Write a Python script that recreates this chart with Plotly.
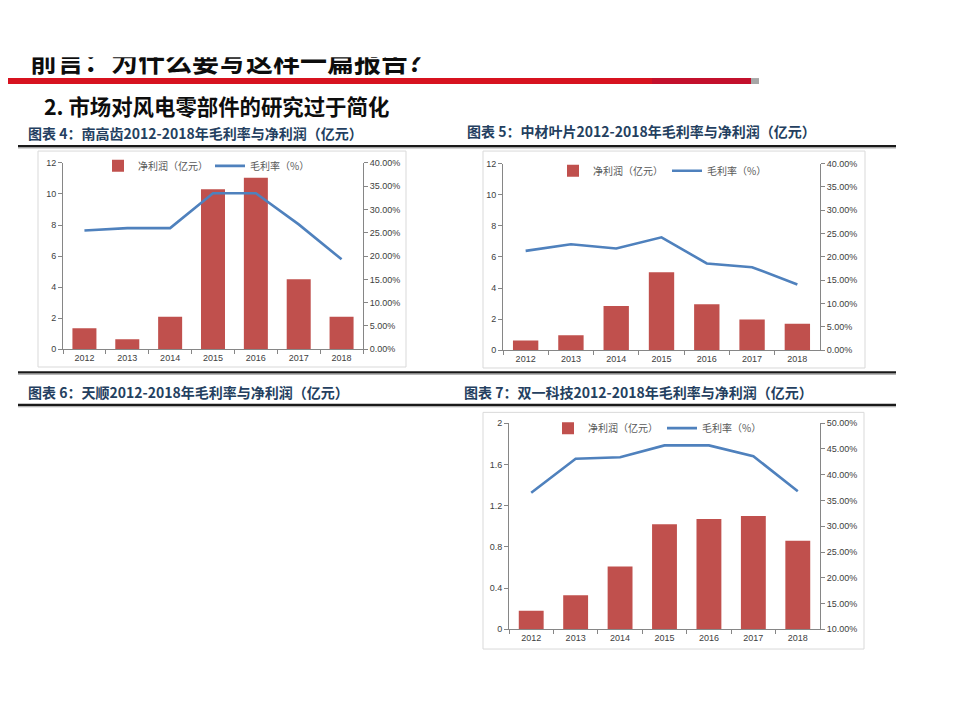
import plotly.graph_objects as go

W, H = 959, 719
OFF = 8  # page body margin offset


def px(x):
    return (x - OFF) / W


def py(y):
    return 1 - (y - OFF) / H


years = ['2012', '2013', '2014', '2015', '2016', '2017', '2018']

# 南高齿
ngc_profit = [1.35, 0.65, 2.1, 10.3, 11.05, 4.5, 2.1]
ngc_margin = [0.255, 0.26, 0.26, 0.335, 0.335, 0.268, 0.193]
# 中材叶片
zc_profit = [0.62, 0.97, 2.85, 5.02, 2.95, 1.98, 1.7]
zc_margin = [0.213, 0.227, 0.218, 0.242, 0.186, 0.178, 0.141]
# 双一科技
sy_profit = [0.18, 0.33, 0.61, 1.02, 1.07, 1.10, 0.86]
sy_margin = [0.365, 0.431, 0.434, 0.457, 0.457, 0.436, 0.368]

bar_name = '净利润（亿元）'
line_name = '毛利率（%）'

slide_title = '前言：为什么要写这样一篇报告？'
section_title = '2. 市场对风电零部件的研究过于简化'
t4 = '图表 4：南高齿2012-2018年毛利率与净利润（亿元）'
t5 = '图表 5：中材叶片2012-2018年毛利率与净利润（亿元）'
t6 = '图表 6：天顺2012-2018年毛利率与净利润（亿元）'
t7 = '图表 7：双一科技2012-2018年毛利率与净利润（亿元）'

BAR = '#C0504D'
LINE = '#4F81BD'
AX = '#868686'
TXT = '#404040'
TICKFONT = dict(family='Liberation Sans, Arial', size=9, color=TXT)
CJK = 'Noto Sans CJK SC'

fig = go.Figure()

charts = [
    (ngc_profit, ngc_margin, 'x', 'y', 'y2', 'legend', 'legend2'),
    (zc_profit, zc_margin, 'x2', 'y3', 'y4', 'legend3', 'legend4'),
    (sy_profit, sy_margin, 'x3', 'y5', 'y6', 'legend5', 'legend6'),
]
for prof, marg, xa, yl, yr, lg1, lg2 in charts:
    fig.add_trace(go.Bar(x=years, y=prof, name=bar_name, marker=dict(color=BAR, line=dict(width=0)),
                         xaxis=xa, yaxis=yl, legend=lg1, hoverinfo='skip'))
    fig.add_trace(go.Scatter(x=years, y=marg, name=line_name, mode='lines',
                             line=dict(color=LINE, width=2.6), xaxis=xa, yaxis=yr, legend=lg2,
                             hoverinfo='skip'))

# slide title as text on a hidden full-page axis (so its top can be masked like the original)
fig.add_trace(go.Scatter(x=[px(30)], y=[py(60.5)], mode='text', text=['<b>' + slide_title + '</b>'],
                         textposition='middle right', cliponaxis=False, showlegend=False,
                         textfont=dict(family=CJK, size=27, color='#0D0D0D'),
                         xaxis='x4', yaxis='y7', hoverinfo='skip'))

geo = [
    (63, 363, 160, 349),
    (503, 820, 160.7, 350),
    (509, 820, 424, 633),
]
left_ranges = [([0, 12], 2, None), ([0, 12], 2, None), ([0, 2], 0.4, ['0', '0.4', '0.8', '1.2', '1.6', '2'])]
right_ranges = [[0, 0.4], [0, 0.4], [0.1, 0.5]]

layout = dict(
    width=W, height=H, margin=dict(l=0, r=0, t=0, b=0),
    paper_bgcolor='white', plot_bgcolor='rgba(0,0,0,0)',
    showlegend=True, bargap=0.44,
    xaxis4=dict(domain=[0, 1], range=[0, 1], visible=False, anchor='y7', fixedrange=True),
    yaxis7=dict(domain=[0, 1], range=[0, 1], visible=False, anchor='x4', fixedrange=True),
)
xnames = ['xaxis', 'xaxis2', 'xaxis3']
ylnames = [('yaxis', 'y'), ('yaxis3', 'y3'), ('yaxis5', 'y5')]
yrnames = [('yaxis2', 'y2'), ('yaxis4', 'y4'), ('yaxis6', 'y6')]
xids = ['x', 'x2', 'x3']
for i, (x0, x1, yt, yb) in enumerate(geo):
    layout[xnames[i]] = dict(
        domain=[px(x0), px(x1)], anchor=ylnames[i][1], type='category',
        tickson='boundaries', ticks='outside', ticklen=4, tickcolor=AX,
        showline=True, linecolor=AX, linewidth=1, showgrid=False, zeroline=False,
        tickfont=TICKFONT, fixedrange=True,
    )
    rng, dt, labels = left_ranges[i]
    yl = dict(
        domain=[py(yb), py(yt)], anchor=xids[i], range=rng, dtick=dt,
        ticks='outside', ticklen=4, tickcolor=AX, showline=True, linecolor=AX, linewidth=1,
        showgrid=False, zeroline=False, tickfont=TICKFONT, fixedrange=True,
    )
    if labels:
        yl['tickmode'] = 'array'
        yl['tickvals'] = [0, 0.4, 0.8, 1.2, 1.6, 2.0]
        yl['ticktext'] = labels
    layout[ylnames[i][0]] = yl
    layout[yrnames[i][0]] = dict(
        overlaying=ylnames[i][1], anchor=xids[i], side='right', range=right_ranges[i],
        dtick=0.05, tickformat='.2%', ticks='outside', ticklen=4, tickcolor=AX,
        showline=True, linecolor=AX, linewidth=1, showgrid=False, zeroline=False,
        tickfont=TICKFONT, fixedrange=True,
    )

leg_pos = [(98, 163), (210, 163), (553, 168), (667, 168), (548, 429), (662, 429)]
lnames = ['legend', 'legend2', 'legend3', 'legend4', 'legend5', 'legend6']
for i, (lx, ly) in enumerate(leg_pos):
    layout[lnames[i]] = dict(
        orientation='h', x=px(lx), y=py(ly), xanchor='left', yanchor='middle',
        font=dict(family=CJK, size=10, color='#595959'), bgcolor='rgba(0,0,0,0)',
        itemwidth=30, traceorder='normal', tracegroupgap=0,
    )

fig.update_layout(**layout)

shapes = []
# mask over the top of the slide title (cropped in the original)
shapes.append(dict(type='rect', xref='paper', yref='paper', x0=px(0), x1=px(520), y0=py(53), y1=py(0),
                   fillcolor='white', line=dict(width=0), layer='above'))
# red header bar
shapes.append(dict(type='rect', xref='paper', yref='paper', x0=px(0), x1=px(4), y0=py(80), y1=py(74),
                   fillcolor='#A6A6A6', line=dict(width=0), layer='below'))
shapes.append(dict(type='rect', xref='paper', yref='paper', x0=px(4), x1=px(652), y0=py(80), y1=py(74),
                   fillcolor='#D7121F', line=dict(width=0), layer='below'))
shapes.append(dict(type='rect', xref='paper', yref='paper', x0=px(652), x1=px(751), y0=py(80), y1=py(74),
                   fillcolor='#C3102C', line=dict(width=0), layer='below'))
shapes.append(dict(type='rect', xref='paper', yref='paper', x0=px(751), x1=px(759), y0=py(80), y1=py(74),
                   fillcolor='#A6A6A6', line=dict(width=0), layer='below'))
# chart boxes
for (bx0, bx1, by0, by1) in [(38, 406, 148, 367), (483, 865, 148, 368), (483, 864, 413, 653)]:
    shapes.append(dict(type='rect', xref='paper', yref='paper', x0=px(bx0), x1=px(bx1), y0=py(by1), y1=py(by0),
                       fillcolor='rgba(0,0,0,0)', line=dict(color='#D9D9D9', width=1), layer='below'))
# black rules
for yy in [143, 372.5, 405.5]:
    shapes.append(dict(type='line', xref='paper', yref='paper', x0=px(18), x1=px(896), y0=py(yy), y1=py(yy),
                       line=dict(color='#1A1A1A', width=2.2)))
    shapes.append(dict(type='line', xref='paper', yref='paper', x0=px(18), x1=px(896), y0=py(yy + 1.8), y1=py(yy + 1.8),
                       line=dict(color='#7F7F7F', width=0.8)))
fig.update_layout(shapes=shapes)

ann = []
ann.append(dict(text='<b>' + section_title + '</b>', x=px(42), y=py(102), xref='paper', yref='paper',
                xanchor='left', yanchor='middle', showarrow=False,
                font=dict(family=CJK, size=21.4, color='#0D0D0D')))
for txt, tx, ty in [(t4, 26, 130), (t5, 465, 128), (t6, 26, 392), (t7, 462, 392)]:
    ann.append(dict(text='<b>' + txt + '</b>', x=px(tx), y=py(ty), xref='paper', yref='paper',
                    xanchor='left', yanchor='middle', showarrow=False,
                    font=dict(family=CJK, size=14, color='#243F60')))
fig.update_layout(annotations=ann)

fig.write_html('out.html')
